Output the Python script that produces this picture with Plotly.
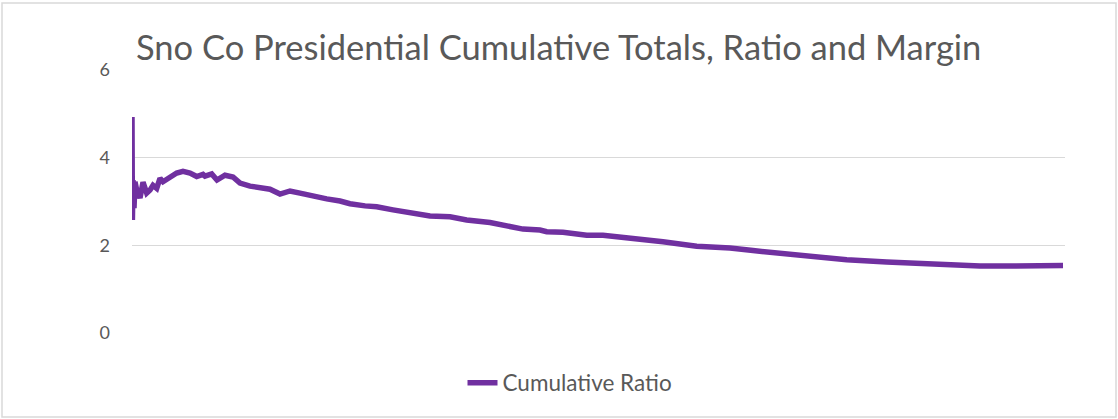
import plotly.graph_objects as go

# Position in count sequence (reporting order) and cumulative ratio values
report_index = [0, 0.4, 1, 2, 3, 4.7, 8, 11, 14.7, 18, 21, 24.7, 28, 31, 38, 44.7, 51, 58, 64.7, 71,
                73, 79.7, 85, 93, 101, 108, 118, 124.7, 138, 148, 158, 168, 181, 194.7, 208, 216,
                218, 233, 244.7, 261, 284.7, 298, 318, 334.7, 358, 378, 391, 408, 414.7, 431, 454.7,
                471, 498, 531, 564.7, 598, 621, 648, 681, 714.7, 754.7, 788, 814.7, 848, 881, 914.7,
                931]
cumulative_ratio = [4.93, 2.58, 3.49, 2.85, 3.45, 3.26, 3.08, 3.44, 3.19, 3.26, 3.37, 3.30, 3.53, 3.45,
                    3.56, 3.65, 3.69, 3.65, 3.57, 3.62, 3.58, 3.63, 3.49, 3.60, 3.56, 3.42, 3.35, 3.33,
                    3.28, 3.17, 3.24, 3.19, 3.12, 3.06, 3.01, 2.96, 2.95, 2.90, 2.88, 2.81, 2.74, 2.67,
                    2.65, 2.58, 2.52, 2.44, 2.37, 2.35, 2.31, 2.30, 2.23, 2.23, 2.17, 2.08, 1.98, 1.94,
                    1.88, 1.82, 1.75, 1.67, 1.62, 1.58, 1.55, 1.53, 1.53, 1.53, 1.54]
y_ticks = [0, 2, 4, 6]

W, H = 1118, 419
L, R, T, B = 132, 53, 70, 86
pw, ph = W - L - R, H - T - B

fig = go.Figure()
fig.add_trace(go.Scatter(
    x=report_index, y=cumulative_ratio, mode="lines", name="Cumulative Ratio",
    line=dict(color="#7030A0", width=5.5), showlegend=True,
))

fig.update_layout(
    width=W, height=H,
    margin=dict(l=L, r=R, t=T, b=B, autoexpand=False),
    paper_bgcolor="white", plot_bgcolor="white",
    font=dict(family="Lato, 'Open Sans', sans-serif", color="#595959", size=18),
    title=dict(text="Sno Co Presidential Cumulative Totals, Ratio and Margin",
               x=136 / W, xanchor="left", y=1 - 48 / H, yanchor="middle",
               font=dict(size=34.5, color="#595959")),
    xaxis=dict(range=[0, 933], visible=False, showgrid=False, zeroline=False),
    yaxis=dict(range=[0, 6], tickvals=y_ticks, showgrid=True, gridcolor="#D9D9D9", gridwidth=1,
               zeroline=False, showline=False, ticks="", ticklabelstandoff=21,
               tickfont=dict(size=18, color="#595959")),
    legend=dict(orientation="h", x=(570 - L) / pw, xanchor="center",
                y=-(383 - 333) / ph, yanchor="middle", font=dict(size=22.5, color="#595959"),
                bgcolor="rgba(0,0,0,0)"),
    shapes=[dict(type="rect", xref="paper", yref="paper",
                 x0=(2 - L) / pw, x1=(1116 - L) / pw,
                 y0=(333 - 417) / ph, y1=(333 - 3) / ph,
                 line=dict(color="#D9D9D9", width=1.5), fillcolor="rgba(0,0,0,0)", layer="below")],
)

fig.write_html("out.html", config={"displayModeBar": False},
               post_script="document.body.style.margin='0';document.body.style.overflow='hidden';")
